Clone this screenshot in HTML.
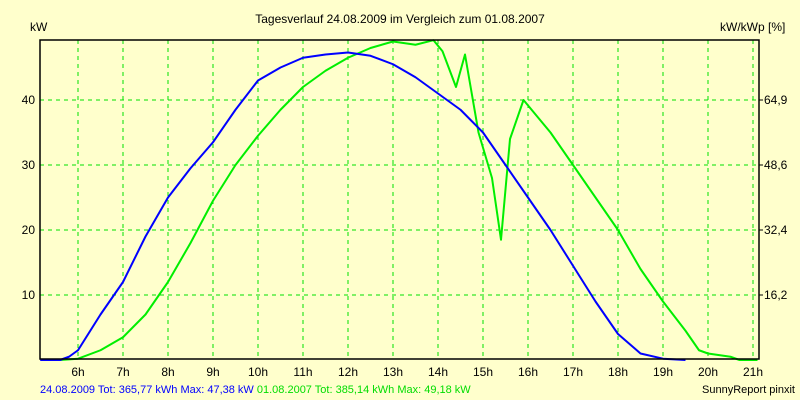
<!DOCTYPE html>
<html><head><meta charset="utf-8"><style>
body{margin:0;background:#ffffcc;}
svg{display:block;font-family:"Liberation Sans",sans-serif;}
</style></head><body>
<svg id="chart" width="800" height="400" viewBox="0 0 800 400">
<rect x="0" y="0" width="800" height="400" fill="#ffffcc"/>
<text x="400" y="23" font-size="12" text-anchor="middle">Tagesverlauf 24.08.2009 im Vergleich zum 01.08.2007</text>
<text x="30" y="31" font-size="12">kW</text>
<text x="720" y="31" font-size="12">kW/kWp [%]</text>
<g id="grid"></g>
<g id="series"></g>
<rect x="40" y="40" width="719" height="319" fill="none" stroke="#000" stroke-width="1.5"/>
<g id="labels"></g>
<text x="40" y="393" font-size="11"><tspan fill="#0000ff">24.08.2009 Tot: 365,77 kWh Max: 47,38 kW </tspan><tspan fill="#00dd00">01.08.2007 Tot: 385,14 kWh Max: 49,18 kW</tspan></text>
<text x="795" y="393" font-size="11" text-anchor="end">SunnyReport pinxit</text>
</svg>
<script>
const hourTicks=[6,7,8,9,10,11,12,13,14,15,16,17,18,19,20,21];
const leftTicks=[10,20,30,40];
const rightTickLabels=["16,2","32,4","48,6","64,9"];
const blueHours=[5.16,5.6,5.8,6,6.5,7,7.5,8,8.5,9,9.5,10,10.5,11,11.5,12,12.5,13,13.5,14,14.5,15,15.5,16,16.5,17,17.5,18,18.5,19,19.5];
const blueValues=[0,0,0.5,1.5,7,12,19,25,29.5,33.5,38.5,43,45,46.5,47,47.3,46.8,45.5,43.5,41,38.5,35,30,25,20,14.5,9,4,1,0.2,0];
const greenHours=[5.6,6,6.5,7,7.5,8,8.5,9,9.5,10,10.5,11,11.5,12,12.5,13,13.5,13.9,14.1,14.4,14.6,14.9,15.2,15.4,15.6,15.9,16.5,17,17.5,18,18.5,19,19.5,19.8,20,20.5,20.7,21.1];
const greenValues=[0,0.2,1.5,3.5,7,12,18,24.5,30,34.5,38.5,42,44.5,46.5,48,49,48.5,49.2,47.5,42,47,35,28,18.5,34,40,35,30,25,20,14,9,4.5,1.5,1,0.5,0,0];
const X=h=>78+(h-6)*45;
const Y=v=>360-v*6.5;
const NS="http://www.w3.org/2000/svg";
const grid=document.getElementById('grid'),labels=document.getElementById('labels'),series=document.getElementById('series');
function mk(tag,attrs,parent){const e=document.createElementNS(NS,tag);for(const k in attrs)e.setAttribute(k,attrs[k]);parent.appendChild(e);return e;}
hourTicks.forEach(h=>{
 const l=mk('line',{x1:X(h),x2:X(h),y1:40,y2:359,stroke:'#00e000','stroke-dasharray':'4,4'},grid);
 
 
 const t=mk('text',{x:X(h),y:376,'font-size':12,'text-anchor':'middle'},labels);
 t.textContent=h+'h';
 
 
});
leftTicks.forEach((v,i)=>{
 const l=mk('line',{x1:40,x2:759,y1:Y(v),y2:Y(v),stroke:'#00e000','stroke-dasharray':'4,4'},grid);
 
 
 const t=mk('text',{x:35,y:Y(v)+4,'font-size':12,'text-anchor':'end'},labels);
 t.textContent=v;
 
 
 const t2=mk('text',{x:764,y:Y(v)+4,'font-size':12},labels);
 t2.textContent=rightTickLabels[i];
 
 
 const tk=mk('line',{x1:759,x2:763,y1:Y(v),y2:Y(v),stroke:'#000'},labels);
 
 
});
function line(hs,vs,color,name){
 const p=mk('polyline',{points:hs.map((h,i)=>X(h)+','+Y(vs[i])).join(' '),fill:'none',stroke:color,'stroke-width':2,'stroke-linejoin':'round'},series);
 
 
}
line(greenHours,greenValues,'#00ee00','line-2007');
line(blueHours,blueValues,'#0000ff','line-2009');
</script>
</body></html>
